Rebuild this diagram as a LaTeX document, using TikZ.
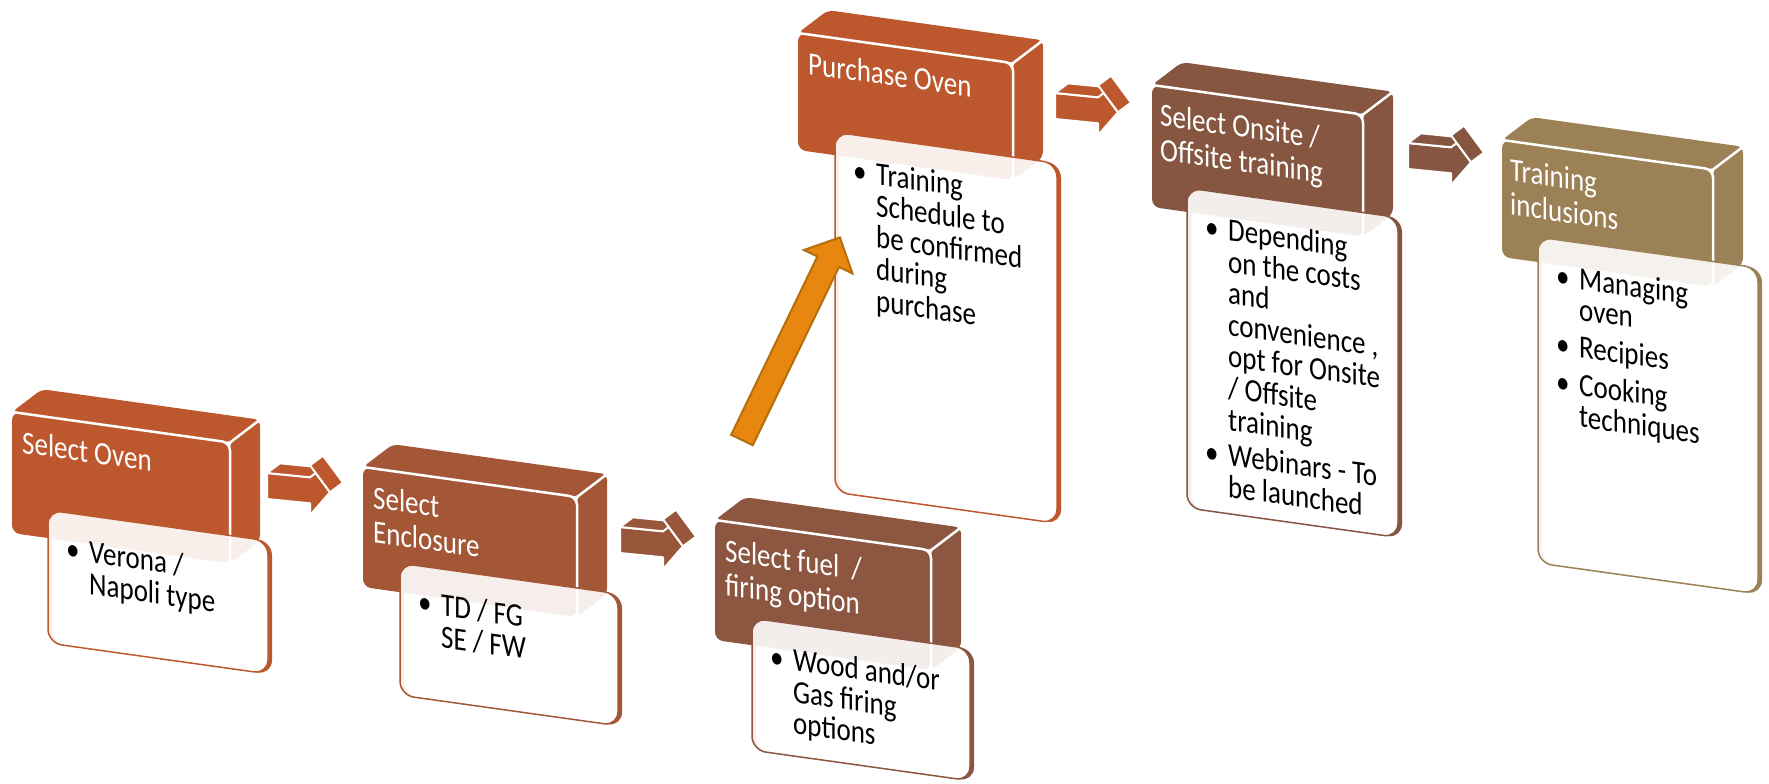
\documentclass[tikz,border=0pt]{standalone}
\usepackage{fontspec}
\setmainfont{Carlito}

\definecolor{ovenorange}{RGB}{189,88,46}
\definecolor{enclbrown}{RGB}{164,87,54}
\definecolor{fuelbrown}{RGB}{140,86,64}
\definecolor{trainbrown}{RGB}{134,86,65}
\definecolor{inclgold}{RGB}{156,128,86}
\definecolor{arrowmid}{RGB}{152,87,58}
\definecolor{uporange}{RGB}{232,135,16}
\definecolor{upedge}{RGB}{180,110,12}

\tikzset{
  hdrtext/.style={anchor=north west, inner sep=0pt, text=white, align=left,
    font=\fontsize{27}{28.5}\selectfont, yscale=1.2, transform shape},
  bodytext/.style={anchor=north west, inner sep=0pt, text=black,
    font=\fontsize{27}{25.6}\selectfont, yscale=1.2, transform shape},
  edgeline/.style={white, line width=2.5pt},
  arrowface/.style={draw=white, line width=2pt, line join=round},
}

% 3D header block: colour, width, height
\newcommand{\stepblock}[3]{%
  \fill[#1, rounded corners=6pt] (0,0) -- (30,-27) -- (#2+30,-27) -- (#2,0) -- cycle;
  \fill[#1, rounded corners=6pt] (#2,0) -- (#2+30,-27) -- (#2+30,#3-27) -- (#2,#3) -- cycle;
  \fill[#1, rounded corners=8pt] (0,0) rectangle (#2,#3);
  \draw[edgeline, rounded corners=8pt] (0,0) -- (#2,0) -- (#2,#3);
  \draw[edgeline] (#2,0) -- (#2+30,-27);
}
% white card with a thin edge: colour, x, y, width, height
\newcommand{\stepcard}[5]{%
  \fill[#1, even odd rule, rounded corners=14pt] (#2+4,#3) rectangle ++(#4,#5) (#2,#3) rectangle ++(#4,#5);
  \draw[#1, fill=white, fill opacity=0.9, line width=1.5pt, rounded corners=14pt] (#2,#3) rectangle ++(#4,#5);
}
% 3D block arrow between steps
\newcommand{\steparrow}[1]{%
  \filldraw[#1, arrowface] (0,0) -- (43,0) -- (43,-12) -- (63,13) -- (43,38) -- (43,26) -- (0,26) -- cycle;
  \filldraw[#1, arrowface] (0,0) -- (13,-11) -- (56,-11) -- (43,0) -- cycle;
  \filldraw[#1, arrowface] (43,-12) -- (56,-23) -- (76,2) -- (63,13) -- cycle;
}
\newcommand{\bul}{\makebox[23pt][l]{\textbullet}}

\begin{document}
\begin{tikzpicture}[x=1pt, y=-1pt]
    \useasboundingbox (0,0) rectangle (1769,784);
    \fill[white] (0,0) rectangle (1769,784);

    % Select Oven
    \begin{scope}[shift={(12,412)}, yslant=-0.14]
        \stepblock{ovenorange}{218}{121}
        \stepcard{ovenorange}{36}{93}{220}{133}
        \node[hdrtext] (hdr1) at (10,17) {Select Oven};
        \node[bodytext] (body1) at (54,117) {\begin{tabular}{@{}l@{}l@{}}
            \bul & Verona /\\ & Napoli type\end{tabular}};
    \end{scope}

    % Select Enclosure
    \begin{scope}[shift={(363,467)}, yslant=-0.14]
        \stepblock{enclbrown}{214}{120}
        \stepcard{enclbrown}{37}{91}{218}{132}
        \node[hdrtext] (hdr2) at (10,17) {Select\\Enclosure};
        \node[bodytext] (body2) at (55,115) {\begin{tabular}{@{}l@{}l@{}}
            \bul & TD / FG\\ & SE / FW\end{tabular}};
    \end{scope}

    % Select fuel
    \begin{scope}[shift={(715,520)}, yslant=-0.14]
        \stepblock{fuelbrown}{216}{120}
        \stepcard{fuelbrown}{37}{93}{218}{132}
        \node[hdrtext] (hdr3) at (10,17) {Select fuel\ \ /\\firing option};
        \node[bodytext] (body3) at (55,117) {\begin{tabular}{@{}l@{}l@{}}
            \bul & Wood and/or\\ & Gas firing\\ & options\end{tabular}};
    \end{scope}

    % Purchase Oven
    \begin{scope}[shift={(798,33)}, yslant=-0.14]
        \stepblock{ovenorange}{215}{117}
        \stepcard{ovenorange}{37}{94}{222}{360}
        \node[hdrtext] (hdr4) at (10,17) {Purchase Oven};
        \node[bodytext] (body4) at (55,118) {\begin{tabular}{@{}l@{}l@{}}
            \bul & Training\\ & Schedule to\\ & be confirmed\\ & during\\ & purchase\end{tabular}};
    \end{scope}

    % Select Onsite / Offsite training
    \begin{scope}[shift={(1152,85)}, yslant=-0.14]
        \stepblock{trainbrown}{211}{122}
        \stepcard{trainbrown}{35}{98}{211}{320}
        \node[hdrtext] (hdr5) at (8,17) {Select Onsite /\\Offsite training};
        \node[bodytext] (body5) at (53,122) {\begin{tabular}{@{}l@{}l@{}}
            \bul & Depending\\ & on the costs\\ & and\\ & convenience ,\\ & opt for Onsite\\
            & / Offsite\\ & training\\[3pt] \bul & Webinars - To\\ & be launched\end{tabular}};
    \end{scope}

    % Training inclusions
    \begin{scope}[shift={(1502,140)}, yslant=-0.14]
        \stepblock{inclgold}{211}{117}
        \stepcard{inclgold}{36}{92}{220}{326}
        \node[hdrtext] (hdr6) at (8,17) {Training\\inclusions};
        \node[bodytext] (body6) at (54,116) {\begin{tabular}{@{}l@{}l@{}}
            \bul & Managing\\ & oven\\[5pt] \bul & Recipies\\[5pt] \bul & Cooking\\ & techniques\end{tabular}};
    \end{scope}

    % Block arrows between steps
    \begin{scope}[shift={(267,473)}, yslant=-0.1] \steparrow{ovenorange} \end{scope}
    \begin{scope}[shift={(620,527)}, yslant=-0.1] \steparrow{arrowmid} \end{scope}
    \begin{scope}[shift={(1055,93)}, yslant=-0.1] \steparrow{ovenorange} \end{scope}
    \begin{scope}[shift={(1408,143)}, yslant=-0.1] \steparrow{trainbrown} \end{scope}

    % Arrow up to the purchase step
    \coordinate (upTail) at (742,440);
    \coordinate (upTip) at (840,237);
    \begin{scope}[shift={(upTail)}, rotate=64.2]
        \filldraw[fill=uporange, draw=upedge, line width=2pt, line join=miter]
            (0,-12) -- (198,-12) -- (198,-27) -- (225,0) -- (198,27) -- (198,12) -- (0,12) -- cycle;
    \end{scope}
\end{tikzpicture}
\end{document}
